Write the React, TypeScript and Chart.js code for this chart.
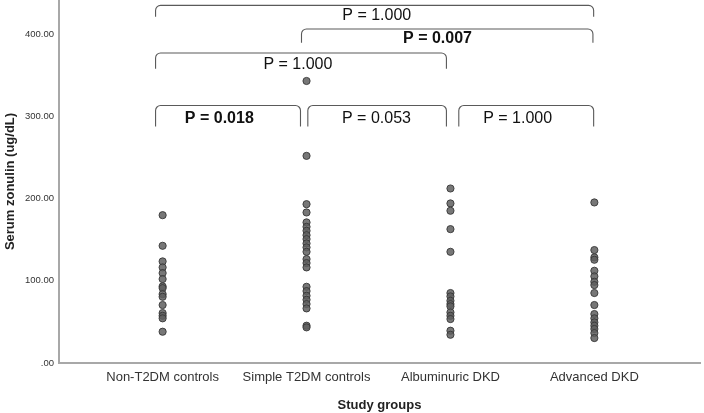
import React, { useEffect, useRef } from "react";
import { Chart, registerables } from "chart.js";

Chart.register(...registerables);

const categories = ["Non-T2DM controls", "Simple T2DM controls", "Albuminuric DKD", "Advanced DKD"];

const nonT2dmControls = [180.0, 142.7, 123.7, 116.4, 109.5, 102.2, 93.3, 91.2, 83.9, 80.6, 70.6, 60.8, 57.5, 54.4, 38.1];
const simpleT2dmControls = [343.4, 252.2, 193.4, 183.3, 171.2, 165.8, 161.0, 155.7, 150.9, 145.6, 140.8, 135.4, 126.5, 121.7, 116.4, 92.8, 87.6, 81.9, 77.0, 71.8, 66.5, 45.4, 43.4];
const albuminuricDkd = [212.5, 194.3, 185.4, 163.0, 135.4, 85.2, 81.1, 75.8, 71.8, 69.0, 61.7, 57.5, 53.5, 39.3, 34.4];
const advancedDkd = [195.5, 137.5, 128.6, 125.7, 112.3, 105.5, 98.9, 94.9, 85.2, 70.6, 59.6, 54.4, 49.5, 45.4, 41.4, 36.5, 30.4];

const yTicks = [0, 100, 200, 300, 400];

// pairwise comparisons
const compFrom = [1, 2, 1, 1, 2, 3];
const compTo = [4, 4, 3, 2, 3, 4];
const compLabels = ["P = 1.000", "P = 0.007", "P = 1.000", "P = 0.018", "P = 0.053", "P = 1.000"];
const compBold = [false, true, false, true, false, false];

// bracket layout (in axis units)
const bracketLayout = [
  { x1: 0.951, x2: 3.995, yLine: 435.4, yEnd: 421.6, tx: 2.488, ty: 423 },
  { x1: 1.965, x2: 3.99, yLine: 406.7, yEnd: 390, tx: 2.91, ty: 394.5 },
  { x1: 0.951, x2: 2.972, yLine: 377.5, yEnd: 358.4, tx: 1.94, ty: 363.3 },
  { x1: 0.951, x2: 1.958, yLine: 313.5, yEnd: 288, tx: 1.394, ty: 297.7 },
  { x1: 2.009, x2: 2.972, yLine: 313.5, yEnd: 288, tx: 2.486, ty: 297.7 },
  { x1: 3.058, x2: 3.995, yLine: 313.5, yEnd: 288, tx: 3.467, ty: 297.7 },
];

const FONT = "'Liberation Sans', Arial, sans-serif";

const bracketPlugin = {
  id: "brackets",
  afterDraw(chart: any) {
    const xs = chart.scales.x;
    const ys = chart.scales.y;
    const ctx = chart.ctx;
    ctx.save();
    ctx.strokeStyle = "#5a5a5a";
    ctx.lineWidth = 1.1;
    compFrom.forEach((_, i) => {
      const b = bracketLayout[i];
      const x1 = xs.getPixelForValue(b.x1);
      const x2 = xs.getPixelForValue(b.x2);
      const yl = ys.getPixelForValue(b.yLine);
      const ye = ys.getPixelForValue(b.yEnd);
      const r = 5;
      ctx.beginPath();
      ctx.moveTo(x1, ye);
      ctx.arcTo(x1, yl, x2, yl, r);
      ctx.arcTo(x2, yl, x2, ye, r);
      ctx.lineTo(x2, ye);
      ctx.stroke();
      ctx.fillStyle = "#111";
      ctx.font = (compBold[i] ? "bold " : "") + "16px " + FONT;
      ctx.textAlign = "center";
      ctx.textBaseline = "middle";
      ctx.fillText(compLabels[i], xs.getPixelForValue(b.tx), ys.getPixelForValue(b.ty));
    });
    ctx.restore();
  },
};

export default function App() {
  const ref = useRef<HTMLCanvasElement | null>(null);
  useEffect(() => {
    if (!ref.current) return;
    const groups = [nonT2dmControls, simpleT2dmControls, albuminuricDkd, advancedDkd];
    const chart = new Chart(ref.current, {
      type: "scatter",
      data: {
        datasets: groups.map((g, gi) => ({
          label: categories[gi],
          data: g.map((v) => ({ x: gi + 1, y: v })),
          pointRadius: 3.6,
          pointBackgroundColor: "rgba(95,95,95,0.85)",
          pointBorderColor: "rgba(55,55,55,0.9)",
          pointBorderWidth: 1,
        })),
      },
      options: {
        responsive: false,
        animation: false,
        events: [],
        layout: { autoPadding: false, padding: { left: 0, right: 4, top: 0, bottom: 0 } },
        plugins: { legend: { display: false }, tooltip: { enabled: false } },
        scales: {
          x: {
            type: "linear",
            position: "bottom",
            min: 0.28,
            max: 4.734,
            grid: { display: false, drawTicks: false },
            border: { display: true, color: "#a8a8a8", width: 2 },
            afterBuildTicks: (s: any) => {
              s.ticks = categories.map((_, i) => ({ value: i + 1 }));
            },
            ticks: {
              autoSkip: false,
              maxRotation: 0,
              padding: 7,
              color: "#333",
              font: { family: FONT, size: 13 },
              callback: (v: any) => categories[Number(v) - 1] ?? "",
            },
            title: {
              display: true,
              text: "Study groups",
              color: "#222",
              font: { family: FONT, size: 13, weight: "bold" },
              padding: { top: 0, bottom: 0 },
            },
            afterFit: (s: any) => {
              s.height = 50;
              s.paddingLeft = 0;
              s.paddingRight = 0;
            },
          },
          y: {
            type: "linear",
            min: 0,
            max: 442,
            grid: { display: false, drawTicks: false },
            border: { display: true, color: "#a8a8a8", width: 2 },
            afterBuildTicks: (s: any) => {
              s.ticks = yTicks.map((v) => ({ value: v }));
            },
            ticks: {
              padding: 5,
              color: "#333",
              font: { family: FONT, size: 9.5 },
              callback: (v: any) => (Number(v) === 0 ? ".00" : Number(v).toFixed(2)),
            },
            title: {
              display: true,
              text: "Serum zonulin (ug/dL)",
              color: "#222",
              font: { family: FONT, size: 13, weight: "bold" },
              padding: { top: 3, bottom: 0 },
            },
            afterFit: (s: any) => {
              s.width = 59;
              s.paddingTop = 0;
              s.paddingBottom = 0;
            },
          },
        },
      },
      plugins: [bracketPlugin],
    });
    return () => chart.destroy();
  }, []);
  return (
    <div style={{ position: "fixed", left: 0, top: 0, width: 704, height: 413, background: "#fff" }}>
      <canvas ref={ref} width={704} height={413} style={{ display: "block" }} />
    </div>
  );
}
